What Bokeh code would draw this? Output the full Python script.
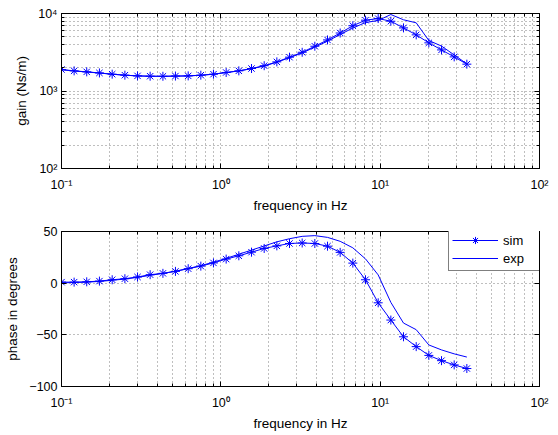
from bokeh.plotting import figure
from bokeh.models import (Range1d, FixedTicker, CustomJSTickFormatter, LogAxis,
                          LinearAxis, Legend, LegendItem)
from bokeh.layouts import column
from bokeh.embed import file_html
from bokeh.resources import INLINE

# ---------------- data ----------------
freq = [0.100, 0.120, 0.144, 0.173, 0.208, 0.250, 0.300, 0.360, 0.433, 0.519,
        0.624, 0.749, 0.899, 1.080, 1.297, 1.558, 1.871, 2.247, 2.698, 3.240,
        3.890, 4.672, 5.610, 6.737, 8.091, 9.716, 11.67, 14.01, 16.83, 20.21,
        24.27, 29.14, 35.00]

sim_gain = [1893, 1820, 1766, 1710, 1648, 1600, 1567, 1552, 1548, 1560,
            1567, 1600, 1648, 1734, 1820, 1950, 2120, 2376, 2731, 3160,
            3780, 4560, 5600, 6950, 8200, 8600, 7950, 6520, 5300, 4180,
            3390, 2755, 2220]

exp_gain = [1880, 1810, 1760, 1705, 1645, 1600, 1565, 1550, 1546, 1555,
            1565, 1597, 1645, 1730, 1815, 1940, 2100, 2350, 2690, 3100,
            3680, 4400, 5350, 6500, 7640, 8130, 9700, 8300, 7580, 4480,
            3800, 2920, 2240]

sim_phase = [1.0, 1.0, 1.3, 2.0, 3.3, 4.3, 6.0, 8.2, 9.5, 11.4,
             14.0, 16.5, 19.6, 23.3, 26.5, 30.0, 33.6, 36.1, 38.4, 38.9,
             38.4, 35.8, 29.8, 19.4, 3.3, -19.0, -35.7, -51.9, -61.4, -69.9,
             -75.0, -79.1, -82.6]

exp_phase = [0.3, 0.6, 1.0, 1.7, 2.8, 4.0, 5.6, 7.6, 9.5, 11.6,
             14.2, 17.0, 20.3, 24.0, 28.0, 32.0, 36.0, 40.0, 43.0, 45.3,
             46.0, 44.3, 40.5, 34.2, 23.5, 8.0, -18.6, -38.6, -45.0, -59.8,
             -64.6, -68.4, -71.5]

x_ticks = [0.1, 1, 10, 100]
gain_ticks = [100, 1000, 10000]
phase_ticks = [-100, -50, 0, 50]
series_labels = ["sim", "exp"]
x_label = "frequency in Hz"
gain_label = "gain (Ns/m)"
phase_label = "phase in degrees"

# ---------------- styling ----------------
FONT = "Liberation Sans"
BLUE = "#0000ff"


def log_minor(ticks):
    out = []
    for t in ticks[:-1]:
        out += [t * m for m in range(2, 10)]
    return out


pow_fmt = CustomJSTickFormatter(code="""
const e = Math.round(Math.log10(tick));
const sup = {"-":"\u207b","0":"\u2070","1":"\u00b9","2":"\u00b2","3":"\u00b3",
             "4":"\u2074","5":"\u2075","6":"\u2076","7":"\u2077","8":"\u2078","9":"\u2079"};
return "10" + String(e).split("").map(c => sup[c]).join("");
""")
lin_fmt = CustomJSTickFormatter(code="""
return tick < 0 ? "\u2212" + String(Math.abs(tick)) : String(tick);
""")
blank_fmt = CustomJSTickFormatter(code="return '';")


def style_axis(ax, ticks, minor, fmt, label=None):
    ax.ticker = FixedTicker(ticks=ticks, minor_ticks=minor)
    ax.formatter = fmt
    ax.axis_line_color = "black"
    ax.major_tick_in = 5
    ax.major_tick_out = 0
    ax.minor_tick_in = 3
    ax.minor_tick_out = 0
    ax.major_tick_line_color = "black"
    ax.minor_tick_line_color = "black" if minor else None
    ax.major_label_text_font = FONT
    ax.major_label_text_font_size = "12.5px"
    ax.major_label_text_color = "black"
    if label is None:
        ax.major_label_standoff = 0
        ax.major_label_text_font_size = "0px"
    else:
        ax.axis_label = label
        ax.axis_label_text_font = FONT
        ax.axis_label_text_font_size = "13.5px"
        ax.axis_label_text_font_style = "normal"
        ax.axis_label_text_color = "black"


def style_grid(grid, ticks, minor):
    grid.ticker = FixedTicker(ticks=ticks, minor_ticks=minor)
    grid.grid_line_color = "black"
    grid.grid_line_alpha = 0.5
    grid.grid_line_dash = "1 3"
    grid.grid_line_width = 1
    if minor:
        grid.minor_grid_line_color = "black"
        grid.minor_grid_line_alpha = 0.5
        grid.minor_grid_line_dash = "1 3"
        grid.minor_grid_line_width = 1


x_minor = log_minor(x_ticks)
g_minor = log_minor(gain_ticks)

# ---------------- top: gain ----------------
p1 = figure(width=557, height=220, x_axis_type="log", y_axis_type="log",
            x_range=Range1d(0.1, 100), y_range=Range1d(100, 10000),
            output_backend="svg", toolbar_location=None,
            min_border_left=61, min_border_right=18,
            min_border_top=13, min_border_bottom=52)
p1.outline_line_color = "black"
p1.background_fill_color = "white"
p1.border_fill_color = "white"
style_axis(p1.xaxis[0], x_ticks, x_minor, pow_fmt, x_label)
style_axis(p1.yaxis[0], gain_ticks, g_minor, pow_fmt, gain_label)
p1.xaxis[0].major_label_standoff = 9
p1.xaxis[0].axis_label_standoff = 3
p1.yaxis[0].major_label_standoff = 4
p1.yaxis[0].axis_label_standoff = 6
top_ax = LogAxis()
style_axis(top_ax, x_ticks, x_minor, blank_fmt)
p1.add_layout(top_ax, "above")
right_ax = LogAxis()
style_axis(right_ax, gain_ticks, g_minor, blank_fmt)
p1.add_layout(right_ax, "right")
style_grid(p1.xgrid[0], x_ticks, x_minor)
style_grid(p1.ygrid[0], gain_ticks, g_minor)

p1.line(freq, exp_gain, line_color=BLUE, line_width=1)
p1.line(freq, sim_gain, line_color=BLUE, line_width=1)
p1.scatter(freq, sim_gain, marker="asterisk", size=9, line_color=BLUE, line_width=1)

# ---------------- bottom: phase ----------------
p2 = figure(width=557, height=213, x_axis_type="log",
            x_range=Range1d(0.1, 100), y_range=Range1d(-100, 50),
            output_backend="svg", toolbar_location=None,
            min_border_left=61, min_border_right=18,
            min_border_top=11, min_border_bottom=44)
p2.outline_line_color = "black"
p2.background_fill_color = "white"
p2.border_fill_color = "white"
style_axis(p2.xaxis[0], x_ticks, x_minor, pow_fmt, x_label)
style_axis(p2.yaxis[0], phase_ticks, [], lin_fmt, phase_label)
p2.xaxis[0].major_label_standoff = 9
p2.xaxis[0].axis_label_standoff = 3
p2.yaxis[0].major_label_standoff = 4
p2.yaxis[0].axis_label_standoff = 6
top_ax2 = LogAxis()
style_axis(top_ax2, x_ticks, x_minor, blank_fmt)
p2.add_layout(top_ax2, "above")
right_ax2 = LinearAxis()
style_axis(right_ax2, phase_ticks, [], blank_fmt)
p2.add_layout(right_ax2, "right")
style_grid(p2.xgrid[0], x_ticks, x_minor)
style_grid(p2.ygrid[0], phase_ticks, [])

l_sim = p2.line(freq, sim_phase, line_color=BLUE, line_width=1)
s_sim = p2.scatter(freq, sim_phase, marker="asterisk", size=9, line_color=BLUE, line_width=1)
l_exp = p2.line(freq, exp_phase, line_color=BLUE, line_width=1)

legend = Legend(items=[LegendItem(label=series_labels[0], renderers=[l_sim, s_sim]),
                       LegendItem(label=series_labels[1], renderers=[l_exp])],
                location=(387, 115))
legend.border_line_color = "black"
legend.border_line_width = 1
legend.background_fill_color = "white"
legend.background_fill_alpha = 1
legend.label_text_font = FONT
legend.label_text_font_size = "13px"
legend.label_text_color = "black"
legend.glyph_width = 46
legend.glyph_height = 18
legend.label_height = 18
legend.label_width = 35
legend.label_standoff = 5
legend.padding = 3
legend.spacing = 0
legend.margin = 0
p2.add_layout(legend)

layout = column(p1, p2)
open("out.html", "w").write(file_html(layout, INLINE))
